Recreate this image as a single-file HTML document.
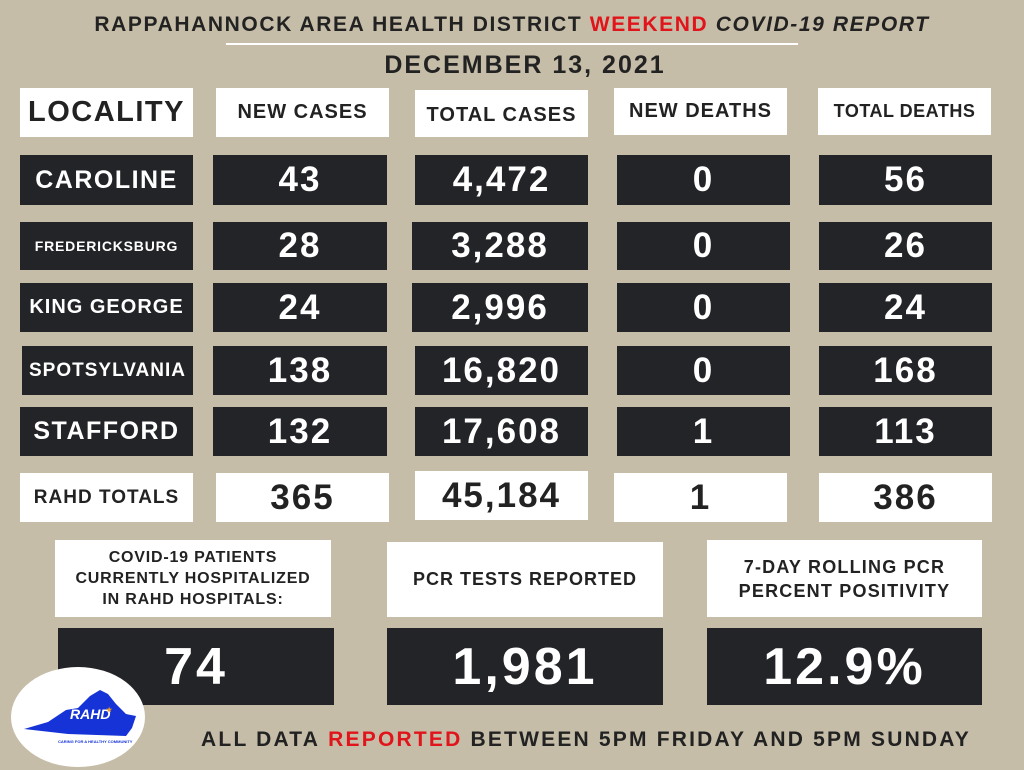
<!DOCTYPE html><html><head><style>
body{margin:0;width:1024px;height:768px;background:#c6bda8;position:relative;overflow:hidden;font-family:"Liberation Sans",sans-serif;font-weight:bold}
.b{position:absolute;display:flex;align-items:center;justify-content:center;text-align:center;white-space:nowrap}
.w{background:#fff;color:#222}
.d{background:#232428;color:#fff}
.h{font-size:20px;letter-spacing:1px}
.n{font-size:35px;letter-spacing:2px}
.l{font-size:25px;letter-spacing:1.5px}
</style></head><body>
<div class="b" style="left:0;top:10px;width:1024px;height:30px;font-size:21px;color:#222;letter-spacing:1.6px">RAPPAHANNOCK AREA HEALTH DISTRICT&nbsp;<span style="color:#e0141a">WEEKEND</span>&nbsp;<i>COVID-19 REPORT</i></div>
<div style="position:absolute;left:226px;top:43px;width:572px;height:2px;background:#fff"></div>
<div class="b" style="left:0;top:48px;width:1050px;height:34px;font-size:25px;color:#222;letter-spacing:2px">DECEMBER 13, 2021</div>

<div class="b w" style="left:20px;top:88px;width:173px;height:49px;font-size:29px;letter-spacing:1.5px">LOCALITY</div>
<div class="b w h" style="left:216px;top:88px;width:173px;height:49px">NEW CASES</div>
<div class="b w h" style="left:415px;top:90px;width:173px;height:47px;padding-top:4px;box-sizing:border-box">TOTAL CASES</div>
<div class="b w h" style="left:614px;top:88px;width:173px;height:47px">NEW DEATHS</div>
<div class="b w" style="left:818px;top:88px;width:173px;height:47px;font-size:18px;letter-spacing:0.5px">TOTAL DEATHS</div>

<div class="b d l" style="left:20px;top:155px;width:173px;height:50px">CAROLINE</div>
<div class="b d n" style="left:213px;top:155px;width:174px;height:50px">43</div>
<div class="b d n" style="left:415px;top:155px;width:173px;height:50px">4,472</div>
<div class="b d n" style="left:617px;top:155px;width:173px;height:50px">0</div>
<div class="b d n" style="left:819px;top:155px;width:173px;height:50px">56</div>

<div class="b d" style="left:20px;top:222px;width:173px;height:48px;font-size:14px;letter-spacing:0.8px">FREDERICKSBURG</div>
<div class="b d n" style="left:213px;top:222px;width:174px;height:48px">28</div>
<div class="b d n" style="left:412px;top:222px;width:176px;height:48px">3,288</div>
<div class="b d n" style="left:617px;top:222px;width:173px;height:48px">0</div>
<div class="b d n" style="left:819px;top:222px;width:173px;height:48px">26</div>

<div class="b d" style="left:20px;top:283px;width:173px;height:49px;font-size:20px;letter-spacing:1px">KING GEORGE</div>
<div class="b d n" style="left:213px;top:283px;width:174px;height:49px">24</div>
<div class="b d n" style="left:412px;top:283px;width:176px;height:49px">2,996</div>
<div class="b d n" style="left:617px;top:283px;width:173px;height:49px">0</div>
<div class="b d n" style="left:819px;top:283px;width:173px;height:49px">24</div>

<div class="b d" style="left:22px;top:346px;width:171px;height:49px;font-size:19px;letter-spacing:1px">SPOTSYLVANIA</div>
<div class="b d n" style="left:213px;top:346px;width:174px;height:49px">138</div>
<div class="b d n" style="left:415px;top:346px;width:173px;height:49px">16,820</div>
<div class="b d n" style="left:617px;top:346px;width:173px;height:49px">0</div>
<div class="b d n" style="left:819px;top:346px;width:173px;height:49px">168</div>

<div class="b d l" style="left:20px;top:407px;width:173px;height:49px">STAFFORD</div>
<div class="b d n" style="left:213px;top:407px;width:174px;height:49px">132</div>
<div class="b d n" style="left:415px;top:407px;width:173px;height:49px">17,608</div>
<div class="b d n" style="left:617px;top:407px;width:173px;height:49px">1</div>
<div class="b d n" style="left:819px;top:407px;width:173px;height:49px">113</div>

<div class="b w" style="left:20px;top:473px;width:173px;height:49px;font-size:19px;letter-spacing:1px">RAHD TOTALS</div>
<div class="b w n" style="left:216px;top:473px;width:173px;height:49px">365</div>
<div class="b w n" style="left:415px;top:471px;width:173px;height:49px">45,184</div>
<div class="b w n" style="left:614px;top:473px;width:173px;height:49px">1</div>
<div class="b w n" style="left:819px;top:473px;width:173px;height:49px">386</div>

<div class="b w" style="left:55px;top:540px;width:276px;height:77px;font-size:16px;line-height:21px;letter-spacing:0.8px">COVID-19 PATIENTS<br>CURRENTLY HOSPITALIZED<br>IN RAHD HOSPITALS:</div>
<div class="b w" style="left:387px;top:542px;width:276px;height:75px;font-size:18px;letter-spacing:1px">PCR TESTS REPORTED</div>
<div class="b w" style="left:707px;top:540px;width:275px;height:77px;font-size:18px;line-height:24px;letter-spacing:1.2px">7-DAY ROLLING PCR<br>PERCENT POSITIVITY</div>
<div class="b d" style="left:58px;top:628px;width:276px;height:77px;font-size:52px;letter-spacing:3px">74</div>
<div class="b d" style="left:387px;top:628px;width:276px;height:77px;font-size:52px;letter-spacing:3px">1,981</div>
<div class="b d" style="left:707px;top:628px;width:275px;height:77px;font-size:52px;letter-spacing:3px">12.9%</div>

<div class="b" style="left:170px;top:726px;width:832px;height:28px;font-size:21px;color:#222;letter-spacing:2.2px">ALL DATA&nbsp;<span style="color:#e0141a">REPORTED</span>&nbsp;BETWEEN 5PM FRIDAY AND 5PM SUNDAY</div>

<svg style="position:absolute;left:8px;top:666px" width="140" height="104">
<ellipse cx="70" cy="51" rx="67" ry="50" fill="#fff"/>
<path d="M16 63 L40 56 L58 44 L70 42 L82 30 L92 24 L100 28 L108 38 L118 48 L128 50 L124 62 L118 70 L60 68 Z" fill="#1533d6"/>
<text x="62" y="53" font-size="14" font-style="italic" fill="#fff" font-family="Liberation Sans">RAHD</text>
<text x="50" y="77" font-size="4" fill="#1533d6" font-family="Liberation Sans">CARING FOR A HEALTHY COMMUNITY</text>
<text x="98" y="46" font-size="7" fill="#f0a020">★</text>
</svg>
</body></html>
